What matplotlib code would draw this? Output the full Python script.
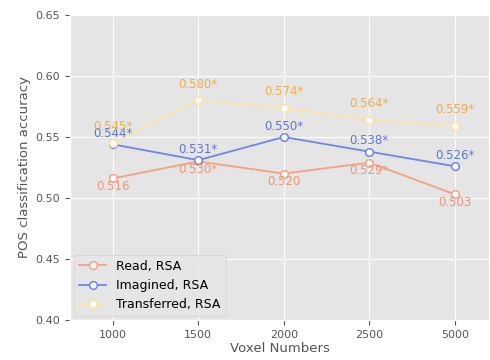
import matplotlib
matplotlib.use("Agg")
import matplotlib.pyplot as plt

voxels = ["1000", "1500", "2000", "2500", "5000"]
read_acc = [0.516, 0.530, 0.520, 0.529, 0.503]
imagined_acc = [0.544, 0.531, 0.550, 0.538, 0.526]
transferred_acc = [0.545, 0.580, 0.574, 0.564, 0.559]
read_labels = ["0.516", "0.530*", "0.520", "0.529*", "0.503"]
imagined_labels = ["0.544*", "0.531*", "0.550*", "0.538*", "0.526*"]
transferred_labels = ["0.545*", "0.580*", "0.574*", "0.564*", "0.559*"]

plt.style.use("ggplot")

fig = plt.figure(figsize=(4.9, 3.6), dpi=100)
ax = fig.add_axes([70 / 490, 40 / 360, 419 / 490, 305 / 360])

x = list(range(len(voxels)))
# (label, values, texts, line colour, text colour, text offset in points)
series = [
    ("Read, RSA", read_acc, read_labels, "#f4a283", "#f09478", -1),
    ("Imagined, RSA", imagined_acc, imagined_labels, "#6f86e8", "#6074d8", 3),
    ("Transferred, RSA", transferred_acc, transferred_labels, "#fde3a6", "#f0ae48", 7),
]

for name, vals, labs, col, tcol, dy in series:
    ax.plot(x, vals, "-o", color=col, lw=1.3, ms=5.5, mfc="white",
            mec=col, mew=1.1, label=name)
    for xi, v, s in zip(x, vals, labs):
        ax.annotate(s, (xi, v), xytext=(0, dy), textcoords="offset points",
                    ha="center", va="bottom" if dy > 0 else "top",
                    color=tcol, fontsize=8.5)

ax.set_xticks(x)
ax.set_xticklabels(voxels)
ax.set_xlim(-0.5, 4.4)
ax.set_ylim(0.40, 0.65)
ax.tick_params(labelsize=8)
ax.set_xlabel("Voxel Numbers", fontsize=9.5, color="#555555", labelpad=2)
ax.set_ylabel("POS classification accuracy", fontsize=9.5, color="#555555", labelpad=3)
ax.legend(loc="lower left", fontsize=9, borderaxespad=0.3, handlelength=2.2)

fig.savefig("out.png", dpi=100)
